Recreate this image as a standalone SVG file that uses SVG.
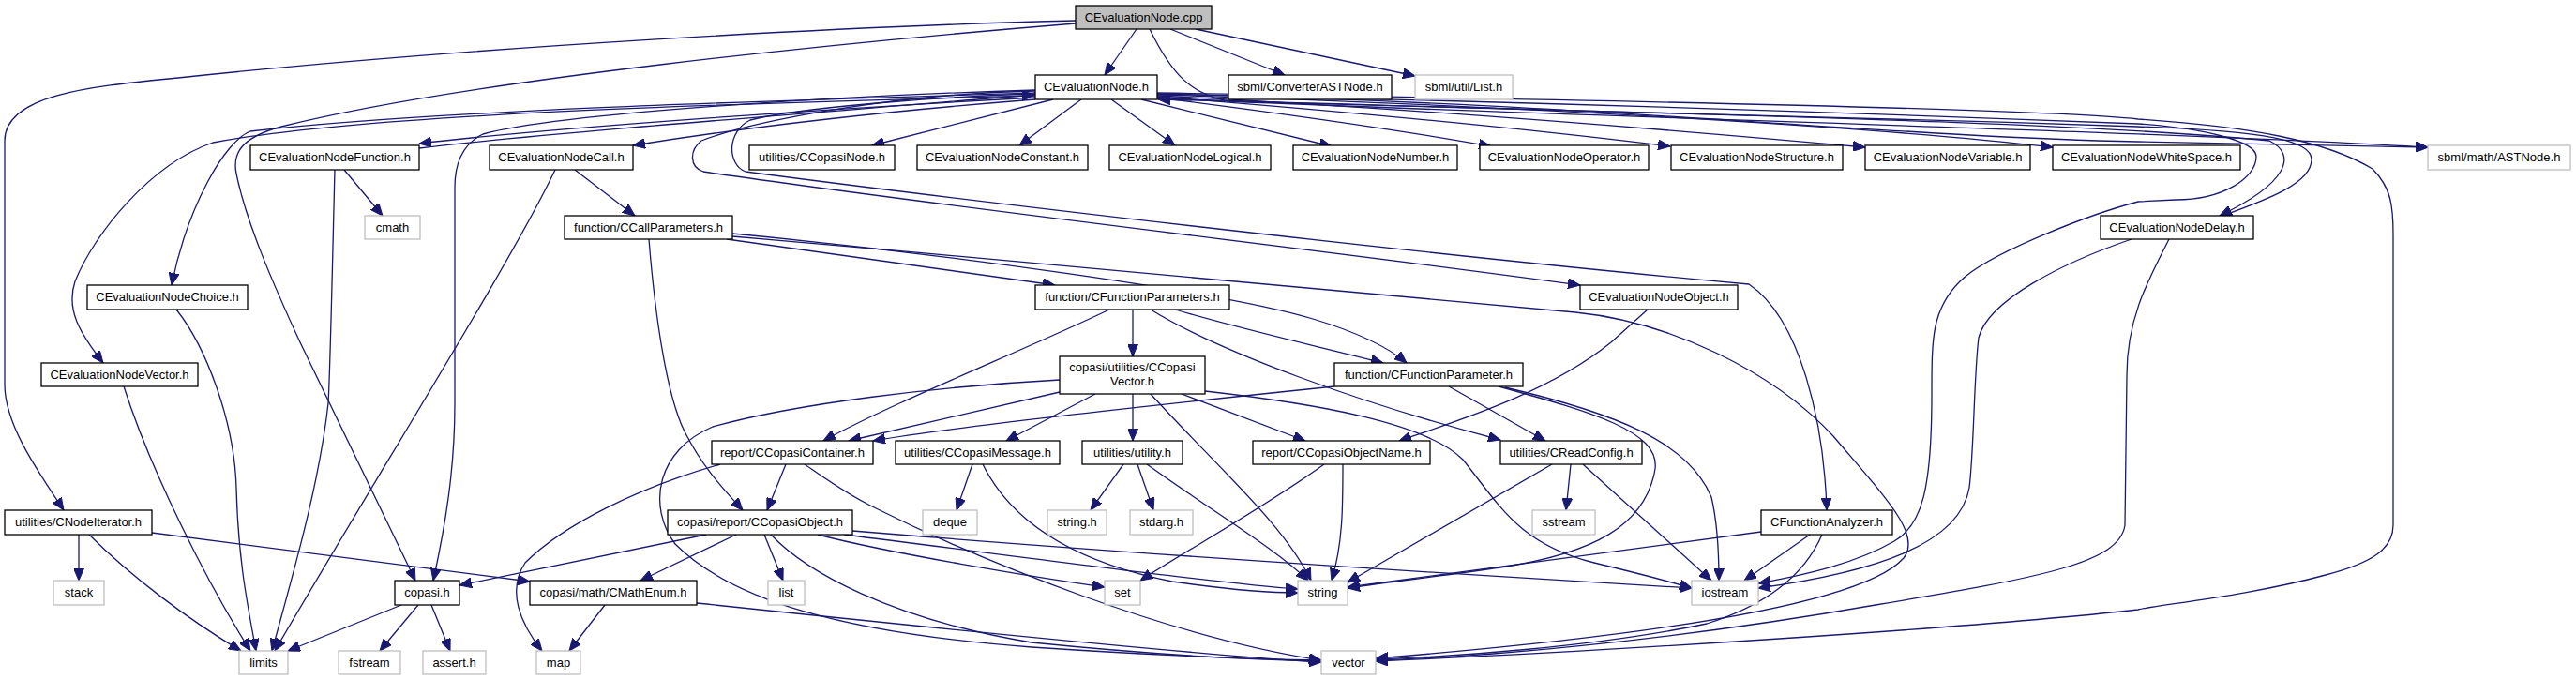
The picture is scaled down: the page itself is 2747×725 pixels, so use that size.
<svg xmlns="http://www.w3.org/2000/svg" width="2747" height="725" viewBox="0 0 2747 725">
<defs>
<style>
.n rect{fill:#fff;stroke:#000;stroke-width:1.3}
.g rect{fill:#fff;stroke:#bfbfbf;stroke-width:1.3}
.r rect{fill:#bfbfbf;stroke:#000;stroke-width:1.3}
text{font-family:"Liberation Sans",Arial,sans-serif;font-size:13px;fill:#000;text-anchor:middle}
#edges path{fill:none;stroke:#191970;stroke-width:1.3;marker-end:url(#a)}
</style>
<marker id="a" markerWidth="14" markerHeight="11" refX="13" refY="5.5" orient="auto" markerUnits="userSpaceOnUse"><path d="M0,0 L13,5.5 L0,11 z" fill="#191970" stroke="#191970" stroke-width="1"/></marker>
</defs>
<rect width="2747" height="725" fill="#fff"/>
<g id="edges">
<path d="M1212,31 L1178,80"/>
<path d="M1248,31 L1370,80"/>
<path d="M1275,31 L1509,81"/>
<path d="M1147,22 C900,28 500,50 190,83 C100,92 5,100 5,150 L5,410 C5,450 35,495 68,544"/>
<path d="M1147,25 C900,45 500,85 300,135 C255,147 248,165 252,185 C262,235 290,300 320,365 L443,619"/>
<path d="M1226,31 C1250,80 1270,100 1310,108 C1700,125 2300,140 2589,157"/>
<path d="M1104,99 C800,108 460,118 267,140 C240,150 200,220 183,304"/>
<path d="M1104,102 C800,110 400,120 227,152 C160,175 100,250 80,300 C70,330 85,355 110,387"/>
<path d="M1104,96 C900,102 600,120 515,143 C490,155 485,180 485,200 L485,430 C485,500 475,560 462,619"/>
<path d="M1104,104 C900,115 600,135 447,153"/>
<path d="M447,158 C600,140 900,118 1103,101"/>
<path d="M1104,106 C950,118 800,135 675,155"/>
<path d="M1123,106 L930,155"/>
<path d="M1153,106 L1087,155"/>
<path d="M1185,106 L1253,155"/>
<path d="M1217,106 L1420,156"/>
<path d="M1234,104 C1400,125 1500,140 1590,156"/>
<path d="M1234,103 C1450,120 1650,140 1781,156"/>
<path d="M1234,102 C1500,115 1800,140 1989,157"/>
<path d="M1234,101 C1600,112 2000,135 2189,157"/>
<path d="M1234,100 C1700,110 2000,145 2280,151 L2589,157"/>
<path d="M1234,105 C1700,120 2200,128 2420,150 C2450,165 2440,195 2367,230"/>
<path d="M2370,230 C2420,212 2465,195 2465,170 C2465,150 2420,140 2280,135 C1900,122 1500,112 1235,106"/>
<path d="M1234,100 C1700,110 2100,125 2280,132 C2350,137 2406,150 2406,167 C2406,190 2370,213 2320,213 L2280,215 C2230,228 2120,270 2090,300 C2060,330 2060,360 2060,420 C2060,520 2050,560 2020,577 C1980,600 1930,612 1875,622"/>
<path d="M1234,99 C1800,108 2200,118 2280,127 C2400,135 2480,150 2530,180 C2550,200 2552,220 2552,250 L2552,560 C2552,585 2530,600 2480,613 C2400,635 2300,645 2280,650 C2100,670 1700,695 1467,705"/>
<path d="M1104,100 C1000,103 850,115 800,128 C775,140 775,175 795,183 C1000,210 1500,270 1865,303 C1920,340 1945,450 1948,544"/>
<path d="M1104,97 C950,100 800,130 748,150 C735,160 735,178 750,183 C1000,220 1400,265 1685,304"/>
<path d="M367,181 L408,230"/>
<path d="M357,181 C355,260 352,400 350,430 C340,520 310,620 290,694"/>
<path d="M613,181 L677,230"/>
<path d="M592,181 C545,280 400,510 293,694"/>
<path d="M188,330 C220,370 250,450 252,520 C254,600 265,650 273,694"/>
<path d="M132,412 C160,500 220,620 267,694"/>
<path d="M84,570 L84,619"/>
<path d="M95,570 C140,615 200,660 257,694"/>
<path d="M162,568 L565,620"/>
<path d="M428,645 L307,694"/>
<path d="M446,645 L405,694"/>
<path d="M460,645 L480,694"/>
<path d="M645,645 L607,694"/>
<path d="M743,643 C1000,670 1300,700 1409,706"/>
<path d="M692,255 C698,330 710,420 730,460 C750,500 775,525 792,544"/>
<path d="M775,255 L1125,304"/>
<path d="M781,249 C1000,270 1300,310 1400,340 C1450,355 1480,370 1500,387"/>
<path d="M781,252 C1100,280 1450,310 1680,333 C1780,343 1890,395 1955,465 C2010,530 2050,570 2030,595 C1990,640 1800,675 1467,702"/>
<path d="M1208,330 L1208,380"/>
<path d="M1253,330 C1320,350 1400,368 1475,387"/>
<path d="M1183,330 C1100,370 950,430 878,470"/>
<path d="M1227,330 C1300,375 1450,430 1600,469"/>
<path d="M1130,418 L905,470"/>
<path d="M1130,405 C1000,412 850,430 760,455 C700,480 690,540 720,580 C780,640 900,675 1100,690 C1250,700 1350,703 1409,704"/>
<path d="M1168,420 L1073,470"/>
<path d="M1208,420 L1208,470"/>
<path d="M1227,420 C1300,500 1370,560 1398,619"/>
<path d="M1260,420 L1392,470"/>
<path d="M1285,417 C1400,430 1520,450 1560,490 C1600,540 1620,580 1700,600 C1750,612 1780,620 1804,627"/>
<path d="M1423,412 C1200,435 1000,458 931,470"/>
<path d="M1545,412 L1648,470"/>
<path d="M1598,412 C1700,440 1770,460 1765,500 C1755,560 1700,590 1600,605 C1530,615 1470,622 1437,627"/>
<path d="M1605,413 C1720,440 1800,470 1825,530 C1832,560 1833,590 1833,619"/>
<path d="M838,495 L818,544"/>
<path d="M768,495 C680,520 600,560 560,600 C540,630 555,665 578,694"/>
<path d="M858,495 C880,510 900,525 930,540 C1050,600 1250,680 1409,704"/>
<path d="M1037,495 L1020,544"/>
<path d="M1048,495 C1080,560 1150,600 1250,620 C1320,630 1360,632 1384,632"/>
<path d="M1198,495 L1163,544"/>
<path d="M1213,495 L1230,544"/>
<path d="M1223,495 C1300,550 1360,585 1395,619"/>
<path d="M1412,495 C1350,540 1260,590 1216,619"/>
<path d="M1432,495 C1432,540 1432,580 1420,619"/>
<path d="M1675,495 L1670,544"/>
<path d="M1655,495 L1437,621"/>
<path d="M1688,495 L1825,619"/>
<path d="M753,570 L490,624"/>
<path d="M785,570 L683,619"/>
<path d="M815,570 L835,619"/>
<path d="M872,570 C950,590 1100,615 1178,626"/>
<path d="M900,570 C1100,595 1300,622 1384,628"/>
<path d="M909,566 C1200,590 1600,615 1804,627"/>
<path d="M822,570 C860,610 950,660 1100,685 C1250,700 1350,704 1409,705"/>
<path d="M1757,330 L1718,365 C1650,420 1550,450 1492,470"/>
<path d="M1878,567 L1437,626"/>
<path d="M1930,570 L1860,619"/>
<path d="M1943,570 C1930,600 1900,640 1820,665 C1700,690 1550,700 1467,703"/>
<path d="M2273,255 C2200,280 2120,320 2110,360 C2105,400 2105,480 2100,520 C2090,580 2000,610 1875,627"/>
<path d="M2313,255 C2290,300 2268,340 2268,400 L2266,560 C2260,600 2180,615 2000,645 C1800,680 1600,700 1467,704"/>
</g>
<g id="n_cpp" class="r"><rect x="1147" y="6" width="145" height="25"/><text x="1219.5" y="23">CEvaluationNode.cpp</text></g>
<g id="n_h" class="n"><rect x="1104" y="80" width="130" height="26"/><text x="1169" y="97">CEvaluationNode.h</text></g>
<g id="n_conv" class="n"><rect x="1310" y="80" width="174" height="26"/><text x="1397" y="97">sbml/ConverterASTNode.h</text></g>
<g id="n_list_h" class="g"><rect x="1509" y="80" width="104" height="26"/><text x="1561" y="97">sbml/util/List.h</text></g>
<g id="n_func" class="n"><rect x="267" y="155" width="180" height="26"/><text x="357" y="172">CEvaluationNodeFunction.h</text></g>
<g id="n_call" class="n"><rect x="522" y="155" width="153" height="26"/><text x="598.5" y="172">CEvaluationNodeCall.h</text></g>
<g id="n_cnode" class="n"><rect x="799" y="155" width="155" height="26"/><text x="876.5" y="172">utilities/CCopasiNode.h</text></g>
<g id="n_const" class="n"><rect x="978" y="155" width="182" height="26"/><text x="1069" y="172">CEvaluationNodeConstant.h</text></g>
<g id="n_logic" class="n"><rect x="1183" y="155" width="172" height="26"/><text x="1269" y="172">CEvaluationNodeLogical.h</text></g>
<g id="n_num" class="n"><rect x="1379" y="155" width="175" height="26"/><text x="1466.5" y="172">CEvaluationNodeNumber.h</text></g>
<g id="n_op" class="n"><rect x="1578" y="155" width="180" height="26"/><text x="1668" y="172">CEvaluationNodeOperator.h</text></g>
<g id="n_struct" class="n"><rect x="1782" y="155" width="183" height="26"/><text x="1873.5" y="172">CEvaluationNodeStructure.h</text></g>
<g id="n_var" class="n"><rect x="1989" y="155" width="176" height="26"/><text x="2077" y="172">CEvaluationNodeVariable.h</text></g>
<g id="n_ws" class="n"><rect x="2189" y="155" width="200" height="26"/><text x="2289" y="172">CEvaluationNodeWhiteSpace.h</text></g>
<g id="n_ast" class="g"><rect x="2589" y="155" width="152" height="26"/><text x="2665" y="172">sbml/math/ASTNode.h</text></g>
<g id="n_cmath" class="g"><rect x="389" y="230" width="59" height="25"/><text x="418.5" y="247">cmath</text></g>
<g id="n_callp" class="n"><rect x="602" y="230" width="179" height="25"/><text x="691.5" y="247">function/CCallParameters.h</text></g>
<g id="n_delay" class="n"><rect x="2240" y="230" width="163" height="25"/><text x="2321.5" y="247">CEvaluationNodeDelay.h</text></g>
<g id="n_choice" class="n"><rect x="93" y="304" width="171" height="26"/><text x="178.5" y="321">CEvaluationNodeChoice.h</text></g>
<g id="n_fps" class="n"><rect x="1104" y="304" width="207" height="26"/><text x="1207.5" y="321">function/CFunctionParameters.h</text></g>
<g id="n_obj" class="n"><rect x="1685" y="304" width="168" height="26"/><text x="1769" y="321">CEvaluationNodeObject.h</text></g>
<g id="n_vec" class="n"><rect x="44" y="387" width="167" height="25"/><text x="127.5" y="404">CEvaluationNodeVector.h</text></g>
<g id="n_cvec" class="n"><rect x="1130" y="380" width="155" height="40"/><text x="1207.5" y="396">copasi/utilities/CCopasi</text><text x="1207.5" y="411">Vector.h</text></g>
<g id="n_fp" class="n"><rect x="1423" y="387" width="201" height="25"/><text x="1523.5" y="404">function/CFunctionParameter.h</text></g>
<g id="n_cont" class="n"><rect x="759" y="470" width="172" height="25"/><text x="845" y="487">report/CCopasiContainer.h</text></g>
<g id="n_msg" class="n"><rect x="955" y="470" width="175" height="25"/><text x="1042.5" y="487">utilities/CCopasiMessage.h</text></g>
<g id="n_util" class="n"><rect x="1154" y="470" width="107" height="25"/><text x="1207.5" y="487">utilities/utility.h</text></g>
<g id="n_objname" class="n"><rect x="1336" y="470" width="189" height="25"/><text x="1430.5" y="487">report/CCopasiObjectName.h</text></g>
<g id="n_rc" class="n"><rect x="1600" y="470" width="151" height="25"/><text x="1675.5" y="487">utilities/CReadConfig.h</text></g>
<g id="n_iter" class="n"><rect x="5" y="544" width="157" height="26"/><text x="83.5" y="561">utilities/CNodeIterator.h</text></g>
<g id="n_cobj" class="n"><rect x="712" y="544" width="197" height="26"/><text x="810.5" y="561">copasi/report/CCopasiObject.h</text></g>
<g id="n_deque" class="g"><rect x="984" y="544" width="58" height="26"/><text x="1013" y="561">deque</text></g>
<g id="n_stringh" class="g"><rect x="1117" y="544" width="63" height="26"/><text x="1148.5" y="561">string.h</text></g>
<g id="n_stdarg" class="g"><rect x="1205" y="544" width="67" height="26"/><text x="1238.5" y="561">stdarg.h</text></g>
<g id="n_sstream" class="g"><rect x="1634" y="544" width="67" height="26"/><text x="1667.5" y="561">sstream</text></g>
<g id="n_fa" class="n"><rect x="1878" y="544" width="140" height="26"/><text x="1948" y="561">CFunctionAnalyzer.h</text></g>
<g id="n_stack" class="g"><rect x="57" y="619" width="54" height="26"/><text x="84" y="636">stack</text></g>
<g id="n_copasi" class="n"><rect x="421" y="619" width="69" height="26"/><text x="455.5" y="636">copasi.h</text></g>
<g id="n_menum" class="n"><rect x="565" y="619" width="178" height="26"/><text x="654" y="636">copasi/math/CMathEnum.h</text></g>
<g id="n_list" class="g"><rect x="819" y="619" width="39" height="26"/><text x="838.5" y="636">list</text></g>
<g id="n_set" class="g"><rect x="1178" y="619" width="38" height="26"/><text x="1197" y="636">set</text></g>
<g id="n_string" class="g"><rect x="1384" y="619" width="53" height="26"/><text x="1410.5" y="636">string</text></g>
<g id="n_iostream" class="g"><rect x="1804" y="619" width="71" height="26"/><text x="1839.5" y="636">iostream</text></g>
<g id="n_limits" class="g"><rect x="255" y="694" width="52" height="25"/><text x="281" y="711">limits</text></g>
<g id="n_fstream" class="g"><rect x="361" y="694" width="66" height="25"/><text x="394" y="711">fstream</text></g>
<g id="n_assert" class="g"><rect x="451" y="694" width="67" height="25"/><text x="484.5" y="711">assert.h</text></g>
<g id="n_map" class="g"><rect x="572" y="694" width="47" height="25"/><text x="595.5" y="711">map</text></g>
<g id="n_vector" class="g"><rect x="1409" y="694" width="58" height="25"/><text x="1438" y="711">vector</text></g>
</svg>
